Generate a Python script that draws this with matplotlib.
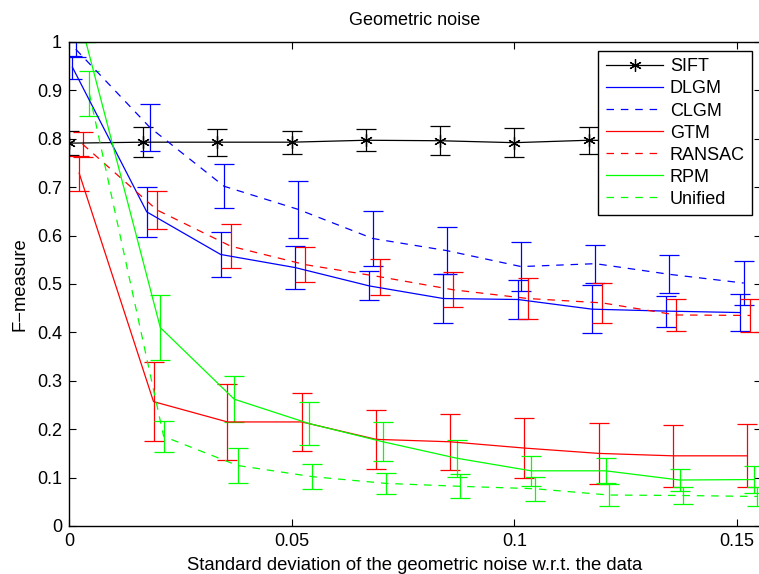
import matplotlib
matplotlib.use("Agg")
import matplotlib.pyplot as plt
import numpy as np

# noise levels (x) and small per-method shift so the error bars don't overlap
noise = [0, 0.0167, 0.0333, 0.05, 0.0667, 0.0833, 0.1, 0.1167, 0.1333, 0.15]
methods = ["SIFT", "DLGM", "CLGM", "GTM", "RANSAC", "RPM", "Unified"]
shift = [0, 0.00076, 0.00152, 0.00228, 0.00304, 0.0038, 0.00456]

sift_mean = [0.791, 0.793, 0.793, 0.793, 0.797, 0.796, 0.792, 0.797, 0.795, 0.796]
sift_err = [0.025, 0.031, 0.028, 0.024, 0.023, 0.030, 0.030, 0.028, 0.028, 0.028]
dlgm_mean = [0.948, 0.649, 0.561, 0.534, 0.496, 0.470, 0.468, 0.448, 0.444, 0.441]
dlgm_err = [0.024, 0.052, 0.046, 0.044, 0.030, 0.050, 0.040, 0.049, 0.032, 0.039]
clgm_mean = [0.985, 0.823, 0.702, 0.654, 0.594, 0.569, 0.536, 0.542, 0.520, 0.502]
clgm_err = [0.015, 0.048, 0.045, 0.059, 0.056, 0.049, 0.051, 0.039, 0.039, 0.046]
gtm_mean = [0.729, 0.257, 0.215, 0.215, 0.179, 0.174, 0.161, 0.150, 0.145, 0.145]
gtm_err = [0.036, 0.082, 0.079, 0.060, 0.061, 0.058, 0.062, 0.063, 0.064, 0.065]
ransac_mean = [0.789, 0.653, 0.578, 0.540, 0.515, 0.488, 0.470, 0.461, 0.436, 0.435]
ransac_err = [0.026, 0.040, 0.045, 0.036, 0.037, 0.036, 0.043, 0.041, 0.034, 0.035]
rpm_mean = [1.0, 0.410, 0.262, 0.212, 0.174, 0.140, 0.114, 0.114, 0.095, 0.096]
rpm_err = [0.0, 0.068, 0.048, 0.045, 0.040, 0.038, 0.031, 0.026, 0.022, 0.027]
unified_mean = [0.894, 0.185, 0.125, 0.102, 0.088, 0.082, 0.077, 0.064, 0.063, 0.061]
unified_err = [0.046, 0.032, 0.036, 0.026, 0.022, 0.025, 0.025, 0.022, 0.018, 0.020]

means = [sift_mean, dlgm_mean, clgm_mean, gtm_mean, ransac_mean, rpm_mean, unified_mean]
errs = [sift_err, dlgm_err, clgm_err, gtm_err, ransac_err, rpm_err, unified_err]
colors = ["k", "b", "b", "r", "r", "#00ff00", "#00ff00"]
styles = ["-", "-", "--", "-", "--", "-", "--"]

plt.rcParams["font.family"] = ["Liberation Sans Narrow", "Liberation Sans", "DejaVu Sans"]

fig = plt.figure(figsize=(7.59, 5.74), dpi=100)
ax = fig.add_axes([69 / 759, 48 / 574, 692 / 759, 484 / 574])

handles = []
for i in range(len(methods)):
    x = np.array(noise) + shift[i]
    c = ax.errorbar(x, means[i], yerr=errs[i], color=colors[i], lw=0.9,
                    elinewidth=0.9, capsize=7, capthick=0.9,
                    marker=(6, 2, 0) if i == 0 else None, markersize=9,
                    markeredgewidth=0.9)
    if styles[i] == "--":
        c[0].set_linestyle((0, (6, 5.5)))
    handles.append(c[0])

ax.set_xlim(0, 0.1554)
ax.set_ylim(0, 1)
ax.set_xticks([0, 0.05, 0.1, 0.15])
ax.set_xticklabels(["0", "0.05", "0.1", "0.15"])
ax.set_yticks(np.arange(0, 1.01, 0.1))
ax.set_yticklabels(["0", "0.1", "0.2", "0.3", "0.4", "0.5", "0.6", "0.7", "0.8", "0.9", "1"])
ax.tick_params(direction="in", top=True, right=True, length=5, width=0.8, labelsize=13, pad=5)
for s in ax.spines.values():
    s.set_linewidth(1.0)

ax.set_title("Geometric noise", fontsize=13, pad=12)
ax.set_xlabel("Standard deviation of the geometric noise w.r.t. the data", fontsize=13.3, labelpad=5)
ax.set_ylabel("F\u2212measure", fontsize=13.3, labelpad=6)

leg = ax.legend(handles, methods, loc="upper right", bbox_to_anchor=(0.987, 0.981),
                borderaxespad=0, numpoints=1, handlelength=3.2, handletextpad=0.35,
                labelspacing=0.28, borderpad=0.4, fancybox=False, framealpha=1,
                edgecolor="k", prop={"family": ["Liberation Sans", "DejaVu Sans"], "size": 13})
leg.get_frame().set_linewidth(1.0)

fig.savefig("out.png", dpi=100)
